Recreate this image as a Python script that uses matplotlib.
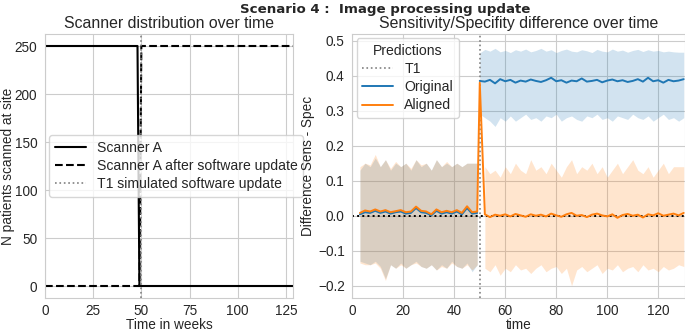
import numpy as np
import matplotlib
matplotlib.use("Agg")
import matplotlib.pyplot as plt
import seaborn as sns

sns.set_style("whitegrid")
plt.rcParams['font.family'] = ['Liberation Sans', 'DejaVu Sans']

# ---------------- left panel data ----------------
weeks = list(range(130))
scanner_a = [250] * 49 + [0] * 81
scanner_a_updated = [0] * 50 + [250] * 80
t1_week = 50

# ---------------- right panel data ----------------
t_pre = [3, 5, 7, 9, 11, 13, 15, 17, 19, 21, 23, 25, 27, 29, 31, 33, 35, 37, 39, 41, 43, 45, 47, 49]
t_post = [50, 52, 54, 56, 58, 60, 62, 64, 66, 68, 70, 72, 74, 76, 78, 80, 82, 84, 86, 88, 90,
          92, 94, 96, 98, 100, 102, 104, 106, 108, 110, 112, 114, 116, 118, 120, 122, 124, 126, 128, 130]

orig_pre = [0.004, 0.010, 0.008, 0.014, 0.008, 0.012, 0.006, 0.010, 0.012, 0.006, 0.008, 0.022,
            0.010, 0.008, 0.001, 0.014, 0.006, 0.010, 0.006, 0.012, 0.004, 0.022, 0.006, 0.008]
orig_pre_hi = [0.13, 0.15, 0.14, 0.165, 0.14, 0.16, 0.13, 0.15, 0.14, 0.15, 0.13, 0.16,
               0.14, 0.15, 0.13, 0.16, 0.14, 0.15, 0.14, 0.15, 0.14, 0.15, 0.15, 0.15]
orig_pre_lo = [-0.13, -0.135, -0.14, -0.13, -0.145, -0.18, -0.14, -0.15, -0.135, -0.15, -0.14, -0.13,
               -0.145, -0.15, -0.14, -0.155, -0.14, -0.15, -0.13, -0.145, -0.15, -0.135, -0.16, -0.14]

align_pre = [0.008, 0.015, 0.012, 0.018, 0.012, 0.016, 0.010, 0.013, 0.016, 0.010, 0.012, 0.026,
             0.014, 0.012, 0.004, 0.018, 0.010, 0.014, 0.010, 0.016, 0.008, 0.027, 0.010, 0.012]
align_pre_hi = [0.14, 0.15, 0.145, 0.175, 0.14, 0.16, 0.135, 0.155, 0.14, 0.15, 0.135, 0.16,
                0.145, 0.15, 0.13, 0.16, 0.14, 0.155, 0.14, 0.15, 0.14, 0.15, 0.15, 0.15]
align_pre_lo = [-0.135, -0.14, -0.14, -0.135, -0.15, -0.185, -0.14, -0.15, -0.14, -0.15, -0.14, -0.135,
                -0.145, -0.15, -0.14, -0.155, -0.145, -0.15, -0.135, -0.145, -0.15, -0.14, -0.155, -0.14]

orig_post = [0.385, 0.383, 0.388, 0.378, 0.390, 0.384, 0.388, 0.380, 0.386, 0.383, 0.389, 0.385,
             0.382, 0.387, 0.394, 0.384, 0.387, 0.380, 0.386, 0.384, 0.392, 0.383, 0.385, 0.388,
             0.381, 0.386, 0.389, 0.384, 0.387, 0.382, 0.385, 0.390, 0.383, 0.394, 0.384, 0.387,
             0.380, 0.388, 0.384, 0.386, 0.390]
orig_post_hi = [0.465, 0.475, 0.470, 0.478, 0.468, 0.472, 0.466, 0.474, 0.470, 0.476, 0.468, 0.472,
                0.478, 0.470, 0.474, 0.466, 0.472, 0.476, 0.470, 0.468, 0.474, 0.471, 0.466, 0.475,
                0.470, 0.468, 0.476, 0.470, 0.473, 0.467, 0.472, 0.475, 0.469, 0.474, 0.470, 0.472,
                0.468, 0.470, 0.468, 0.467, 0.467]
orig_post_lo = [0.29, 0.28, 0.27, 0.255, 0.28, 0.27, 0.285, 0.27, 0.28, 0.29, 0.275, 0.28,
                0.27, 0.285, 0.28, 0.29, 0.27, 0.28, 0.285, 0.275, 0.27, 0.285, 0.28, 0.29,
                0.275, 0.28, 0.27, 0.285, 0.28, 0.275, 0.29, 0.28, 0.275, 0.285, 0.27, 0.28,
                0.29, 0.275, 0.28, 0.27, 0.28]

align_post = [0.380, 0.004, -0.004, 0.003, 0.000, 0.004, -0.002, 0.005, 0.001, -0.003, 0.004, 0.000,
              0.003, -0.002, 0.006, 0.001, -0.003, 0.004, 0.008, 0.000, 0.002, -0.004, 0.003, 0.006,
              0.001, -0.002, 0.004, -0.006, 0.002, 0.005, 0.000, 0.003, -0.005, 0.004, 0.001, 0.007,
              0.000, 0.003, 0.006, 0.001, 0.008]
align_post_hi = [np.nan, 0.14, 0.12, 0.13, 0.11, 0.14, 0.12, 0.15, 0.13, 0.12, 0.16, 0.13,
                 0.14, 0.12, 0.15, 0.13, 0.11, 0.14, 0.16, 0.12, 0.14, 0.13, 0.15, 0.12,
                 0.14, 0.11, 0.13, 0.15, 0.12, 0.14, 0.16, 0.13, 0.12, 0.14, 0.11, 0.13,
                 0.15, 0.12, 0.14, 0.14, 0.14]
align_post_lo = [np.nan, -0.15, -0.16, -0.14, -0.17, -0.15, -0.16, -0.14, -0.155, -0.15, -0.165, -0.15,
                 -0.14, -0.16, -0.15, -0.145, -0.165, -0.15, -0.20, -0.155, -0.145, -0.16, -0.15, -0.14,
                 -0.165, -0.15, -0.155, -0.14, -0.16, -0.15, -0.145, -0.16, -0.14, -0.155, -0.15, -0.16,
                 -0.145, -0.155, -0.15, -0.14, -0.145]

C_BLUE = '#1f77b4'
C_ORANGE = '#ff7f0e'
TXT = '.15'

W, H = 685, 331
fig = plt.figure(figsize=(W / 100, H / 100), dpi=100)

def px_axes(x0, y0, x1, y1):
    return fig.add_axes([x0 / W, 1 - y1 / H, (x1 - x0) / W, (y1 - y0) / H])

FS = 9.8
LFS = 10.1
TFS = 11.4

# ---------------- left ----------------
ax1 = px_axes(45, 34, 293, 298)
ax1.plot(weeks, scanner_a, color='black', lw=1.5, ls='-', label='Scanner A')
ax1.plot(weeks, scanner_a_updated, color='black', lw=1.5, ls='--', label='Scanner A after software update')
ax1.axvline(t1_week, color='gray', ls=':', lw=1.2, label='T1 simulated software update')
ax1.set_xlim(0, 128.7)
ax1.set_ylim(-12.5, 262.5)
ax1.set_xticks([0, 25, 50, 75, 100, 125])
ax1.set_yticks([0, 50, 100, 150, 200, 250])
ax1.set_title('Scanner distribution over time', fontsize=TFS, color=TXT, pad=4)
ax1.set_xlabel('Time in weeks', fontsize=FS, color=TXT)
ax1.set_ylabel('N patients scanned at site', fontsize=FS, color=TXT)
ax1.tick_params(axis='y', labelsize=FS, colors=TXT, pad=2)
ax1.tick_params(axis='x', labelsize=FS, colors=TXT, pad=0.5)
ax1.yaxis.set_label_coords((15 - 45) / 248, 0.5)
ax1.xaxis.set_label_coords(0.5, (298 - 318) / 264)
ax1.legend(loc='center left', fontsize=LFS, frameon=True, borderaxespad=0.3,
           labelspacing=0.3, handlelength=2.2)

# ---------------- right ----------------
ax2 = px_axes(352.3, 34, 685, 298)
ax2.fill_between(t_pre, orig_pre_lo, orig_pre_hi, color=C_BLUE, alpha=0.2, lw=0)
ax2.fill_between(t_post, orig_post_lo, orig_post_hi, color=C_BLUE, alpha=0.2, lw=0)
ax2.fill_between(t_pre, align_pre_lo, align_pre_hi, color=C_ORANGE, alpha=0.2, lw=0)
ax2.fill_between(t_post[1:], align_post_lo[1:], align_post_hi[1:], color=C_ORANGE, alpha=0.2, lw=0)

t1_line = ax2.axvline(t1_week, color='gray', ls=':', lw=1.2, label='T1')
ax2.axhline(0, color='black', ls=':', lw=1.4)
l_orig, = ax2.plot(t_pre, orig_pre, color=C_BLUE, lw=1.4, label='Original')
ax2.plot(t_post, orig_post, color=C_BLUE, lw=1.4)
l_align, = ax2.plot(t_pre + t_post, align_pre + align_post, color=C_ORANGE, lw=1.4, label='Aligned')

ax2.set_xlim(0, 130.5)
ax2.set_ylim(-0.235, 0.519)
ax2.set_xticks([0, 20, 40, 60, 80, 100, 120])
ax2.set_yticks([-0.2, -0.1, 0.0, 0.1, 0.2, 0.3, 0.4, 0.5])
ax2.set_title('Sensitivity/Specifity difference over time', fontsize=TFS, color=TXT, pad=4)
ax2.set_xlabel('time', fontsize=FS, color=TXT)
ax2.set_ylabel('Difference Sens - Spec', fontsize=FS, color=TXT)
ax2.tick_params(axis='y', labelsize=FS, colors=TXT, pad=2)
ax2.tick_params(axis='x', labelsize=FS, colors=TXT, pad=0.5)
ax2.yaxis.set_label_coords((315 - 352.3) / 332.7, 0.5)
ax2.xaxis.set_label_coords(0.5, (298 - 318) / 264)
ax2.legend(handles=[t1_line, l_orig, l_align], title='Predictions', loc='upper left',
           fontsize=LFS, title_fontsize=LFS, frameon=True, borderaxespad=0.3,
           labelspacing=0.3, handlelength=2.2)

fig.text(385.5 / W, 1 - 9 / H, 'Scenario 4 :  Image processing update', ha='center', va='center',
         fontsize=9.6, fontweight='bold', family='DejaVu Sans', color=TXT)

fig.savefig('out.png', dpi=100)
